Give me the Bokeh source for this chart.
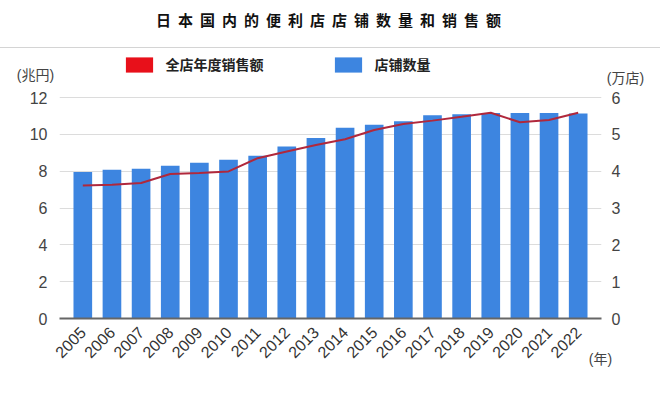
import math
from bokeh.plotting import figure
from bokeh.models import (Range1d, LinearAxis, FixedTicker, Legend, LegendItem,
                          Label, Div, ColumnDataSource, FactorRange)
from bokeh.layouts import column
from bokeh.embed import file_html
from bokeh.resources import INLINE

# ---- data ----
years = ["2005", "2006", "2007", "2008", "2009", "2010", "2011", "2012", "2013",
         "2014", "2015", "2016", "2017", "2018", "2019", "2020", "2021", "2022"]
stores = [3.98, 4.04, 4.07, 4.15, 4.23, 4.31, 4.42, 4.67, 4.90,
          5.18, 5.26, 5.36, 5.52, 5.55, 5.58, 5.58, 5.58, 5.57]   # 万店
sales = [7.23, 7.27, 7.36, 7.85, 7.90, 7.99, 8.71, 9.07, 9.43,
         9.74, 10.24, 10.57, 10.75, 10.96, 11.18, 10.66, 10.78, 11.18]  # 兆円
left_ticks = [0, 2, 4, 6, 8, 10, 12]
right_ticks = [0, 1, 2, 3, 4, 5, 6]
title_text = "日本国内的便利店店铺数量和销售额"
sales_name = "全店年度销售额"
stores_name = "店铺数量"

NUM_FONT = "Liberation Sans"
CJK_FONT = "Noto Sans CJK SC"
UNIT_FONT = "Liberation Sans, Noto Sans CJK SC"

src = ColumnDataSource(dict(year=years, stores=stores, sales=sales))

title_div = Div(text=title_text, width=660, height=48, margin=(0, 0, 0, 0),
                styles={"text-align": "center", "font-family": CJK_FONT,
                        "font-weight": "bold", "font-size": "15px",
                        "letter-spacing": "7px", "line-height": "24px",
                        "color": "#111", "border-bottom": "1px solid #d4d4d4",
                        "padding-top": "8px", "padding-left": "4px",
                        "box-sizing": "border-box", "width": "660px"})

p = figure(width=660, height=350, output_backend="svg", toolbar_location=None,
           x_range=FactorRange(factors=years, range_padding=0.3,
                               range_padding_units="absolute"),
           y_range=Range1d(0, 14.56),
           min_border_left=59, min_border_right=58, min_border_top=2,
           min_border_bottom=78)
p.extra_y_ranges = {"stores": Range1d(0, 7.28)}
p.outline_line_color = None
p.background_fill_color = "white"
p.border_fill_color = "white"

bars = p.vbar(x="year", top="stores", width=0.64, source=src,
              y_range_name="stores", fill_color="#3d85e0", line_color=None)
line = p.line(x="year", y="sales", source=src, line_color="#b0283c",
              line_width=2)

# legend swatch for the sales series (zero-height bars, hidden under the line)
proxy = p.vbar(x="year", top="sales", bottom="sales", width=0.5, source=src,
               fill_color="#e8101a", line_color=None)

# axes
p.yaxis.ticker = FixedTicker(ticks=left_ticks)
p.yaxis.axis_line_color = None
p.yaxis.major_tick_line_color = None
p.yaxis.minor_tick_line_color = None
p.yaxis.major_label_standoff = 6
p.yaxis.major_label_text_font = NUM_FONT
p.yaxis.major_label_text_font_size = "16px"
p.yaxis.major_label_text_color = "#444"

raxis = LinearAxis(y_range_name="stores", ticker=FixedTicker(ticks=right_ticks))
raxis.axis_line_color = None
raxis.major_tick_line_color = None
raxis.minor_tick_line_color = None
raxis.major_label_standoff = 4
raxis.major_label_text_font = NUM_FONT
raxis.major_label_text_font_size = "16px"
raxis.major_label_text_color = "#444"
p.add_layout(raxis, "right")

p.xaxis.axis_line_color = "#666"
p.xaxis.axis_line_width = 2
p.xaxis.major_tick_line_color = None
p.xaxis.minor_tick_line_color = None
p.xaxis.major_label_orientation = math.pi / 4
p.xaxis.major_label_standoff = 5
p.xaxis.major_label_text_font = NUM_FONT
p.xaxis.major_label_text_font_size = "16px"
p.xaxis.major_label_text_color = "#333"

p.xgrid.grid_line_color = None
p.ygrid.grid_line_color = "#dcdcdc"
p.ygrid.grid_line_width = 1

legend = Legend(items=[LegendItem(label=sales_name, renderers=[proxy]),
                       LegendItem(label=stores_name, renderers=[bars])],
                orientation="horizontal", location=(62.6, 244),
                glyph_width=34, glyph_height=19, label_height=19,
                label_standoff=10, spacing=67, padding=0, margin=0,
                border_line_color=None, background_fill_alpha=0,
                label_text_font=CJK_FONT, label_text_font_size="14px",
                label_text_font_style="bold", label_text_color="#222")
p.add_layout(legend)

unit_labels = [("(兆円)", 35, 26.5, "below"),
               ("(万店)", 625, 29, "right"),
               ("(年)", 600, 310, "below")]
for txt, x, y, side in unit_labels:
    p.add_layout(Label(x=x, y=y, x_units="canvas", y_units="canvas", text=txt,
                       text_align="center", text_baseline="middle",
                       text_font=UNIT_FONT, text_font_size="14px",
                       text_color="#444"), side)

layout = column(title_div, p, spacing=0)
open("out.html", "w").write(file_html(layout, INLINE))
